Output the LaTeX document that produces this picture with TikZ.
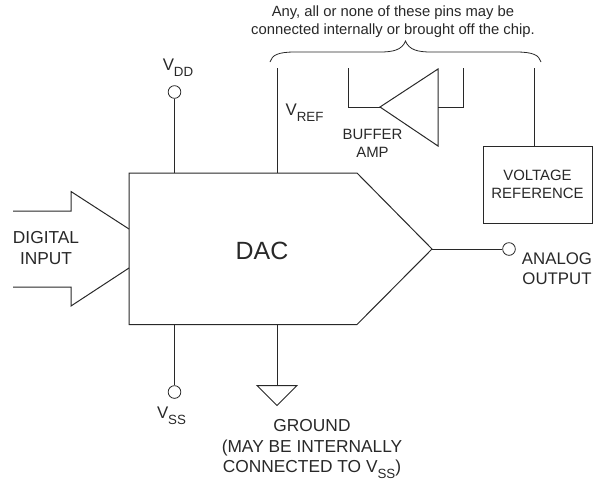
\documentclass[tikz,border=0pt]{standalone}
\usepackage{fontspec}
\setmainfont{Liberation Sans}
\usepackage{xcolor}
\usetikzlibrary{positioning, calc}
\definecolor{InkDark}{RGB}{40,40,40}
\newcommand{\subpin}[1]{\raisebox{-0.65ex}{\fontsize{10}{10}\selectfont #1}}

\begin{document}
\begin{tikzpicture}[
        x=0.75pt,y=-0.75pt,
        wire/.style={draw=InkDark,line width=0.75pt,line join=miter},
        pin/.style={circle,draw=InkDark,line width=0.6pt,fill=white,inner sep=0pt,minimum size=9.5pt},
        lbl/.style={text=InkDark,font=\fontsize{12.6}{15}\selectfont,align=center,inner sep=0pt},
        big/.style={text=InkDark,font=\fontsize{13}{15.3}\selectfont,align=center,inner sep=0pt},
        small/.style={text=InkDark,font=\fontsize{11.2}{13.2}\selectfont,align=center,inner sep=0pt},
        note/.style={text=InkDark,font=\fontsize{11.1}{13}\selectfont,align=center,inner sep=0pt}
      ]
        \useasboundingbox (0,0) rectangle (602,480);
        % DAC outline
        \coordinate (tl) at (129,173);
        \coordinate (tr) at (357,173);
        \coordinate (tip) at (432,249);
        \coordinate (br) at (357,324.5);
        \coordinate (bl) at (129,324.5);
        \draw[wire] (tl)--(tr)--(tip)--(br)--(bl)--cycle;
        \node[text=InkDark,font=\fontsize{18.7}{20}\selectfont,inner sep=0pt] (dac) at (262,251) {DAC};
        % digital input arrow
        \coordinate (in1) at (13,211);
        \coordinate (in2) at (71,211);
        \coordinate (in3) at (71,191.5);
        \coordinate (in4) at (129,229);
        \coordinate (in5) at (129,268);
        \coordinate (in6) at (71,306);
        \coordinate (in7) at (71,287);
        \coordinate (in8) at (13,287);
        \draw[wire] (in1)--(in2)--(in3)--(in4);
        \draw[wire] (in5)--(in6)--(in7)--(in8);
        \node[big] (input) at (46,248) {DIGITAL\\INPUT};
        % supply pins
        \coordinate (vddtop) at (174.5,173);
        \coordinate (vsstop) at (174.5,324.5);
        \node[pin] (vdd) at (174.5,92) {};
        \node[pin] (vss) at (174.5,392) {};
        \draw[wire] (vddtop)--(vdd);
        \draw[wire] (vsstop)--(vss);
        \node[lbl] (vddl) at (178,68) {V\subpin{DD}};
        \node[lbl] (vssl) at (171.5,416) {V\subpin{SS}};
        % output
        \node[pin] (out) at (509,249) {};
        \draw[wire] (tip)--(out);
        \node[lbl] (outl) at (557,269) {ANALOG\\OUTPUT};
        % ground
        \coordinate (gndtop) at (277,324.5);
        \coordinate (gnd) at (277,385.5);
        \coordinate (gnda) at (257,385.5);
        \coordinate (gndb) at (297,385.5);
        \coordinate (gndc) at (277,405.5);
        \draw[wire] (gndtop)--(gnd);
        \draw[wire] (gnda)--(gndb)--(gndc)--cycle;
        \node[big] (gndl) at (312,449) {GROUND\\(MAY BE INTERNALLY\\CONNECTED TO V\subpin{SS})};
        % reference pin
        \coordinate (reftop) at (277,68);
        \coordinate (refbot) at (277,173);
        \draw[wire] (reftop)--(refbot);
        \node[lbl] (refl) at (304.5,113) {V\subpin{REF}};
        % buffer
        \coordinate (bufa) at (380,107);
        \coordinate (bufb) at (438,69);
        \coordinate (bufc) at (438,146);
        \coordinate (bufm) at (438,107);
        \coordinate (bufl) at (348,107);
        \coordinate (bufla) at (348,68);
        \coordinate (bufr) at (463.5,107);
        \coordinate (bufra) at (463.5,68);
        \draw[wire] (bufa)--(bufb)--(bufc)--cycle;
        \draw[wire] (bufla)--(bufl)--(bufa);
        \draw[wire] (bufm)--(bufr)--(bufra);
        \node[small] (bufn) at (372.5,143.5) {BUFFER\\AMP};
        % voltage reference
        \node[draw=InkDark,line width=0.75pt,minimum width=81.75pt,minimum height=57.75pt,
              inner sep=0pt,text=InkDark,align=center,
              font=\fontsize{11.2}{13.2}\selectfont] (vref) at (537.5,184.5) {VOLTAGE\\REFERENCE};
        \coordinate (vreftop) at (534.5,68);
        \draw[wire] (vreftop)--(vref.north -| vreftop);
        % brace over the pins
        \coordinate (bra) at (270,62);
        \coordinate (brb) at (541,62);
        \coordinate (brm) at (405.5,41);
        \draw[wire,line width=0.6pt] (bra) .. controls (272,55) and (278,52) .. (295,52)
          -- (380,52) .. controls (393,52) and (402,50) .. (brm)
          .. controls (409,50) and (418,52) .. (431,52)
          -- (516,52) .. controls (533,52) and (539,55) .. (brb);
        \node[note] (pins) at (393,21.5) {Any, all or none of these pins may be\\connected internally or brought off the chip.};
      \end{tikzpicture}
\end{document}
